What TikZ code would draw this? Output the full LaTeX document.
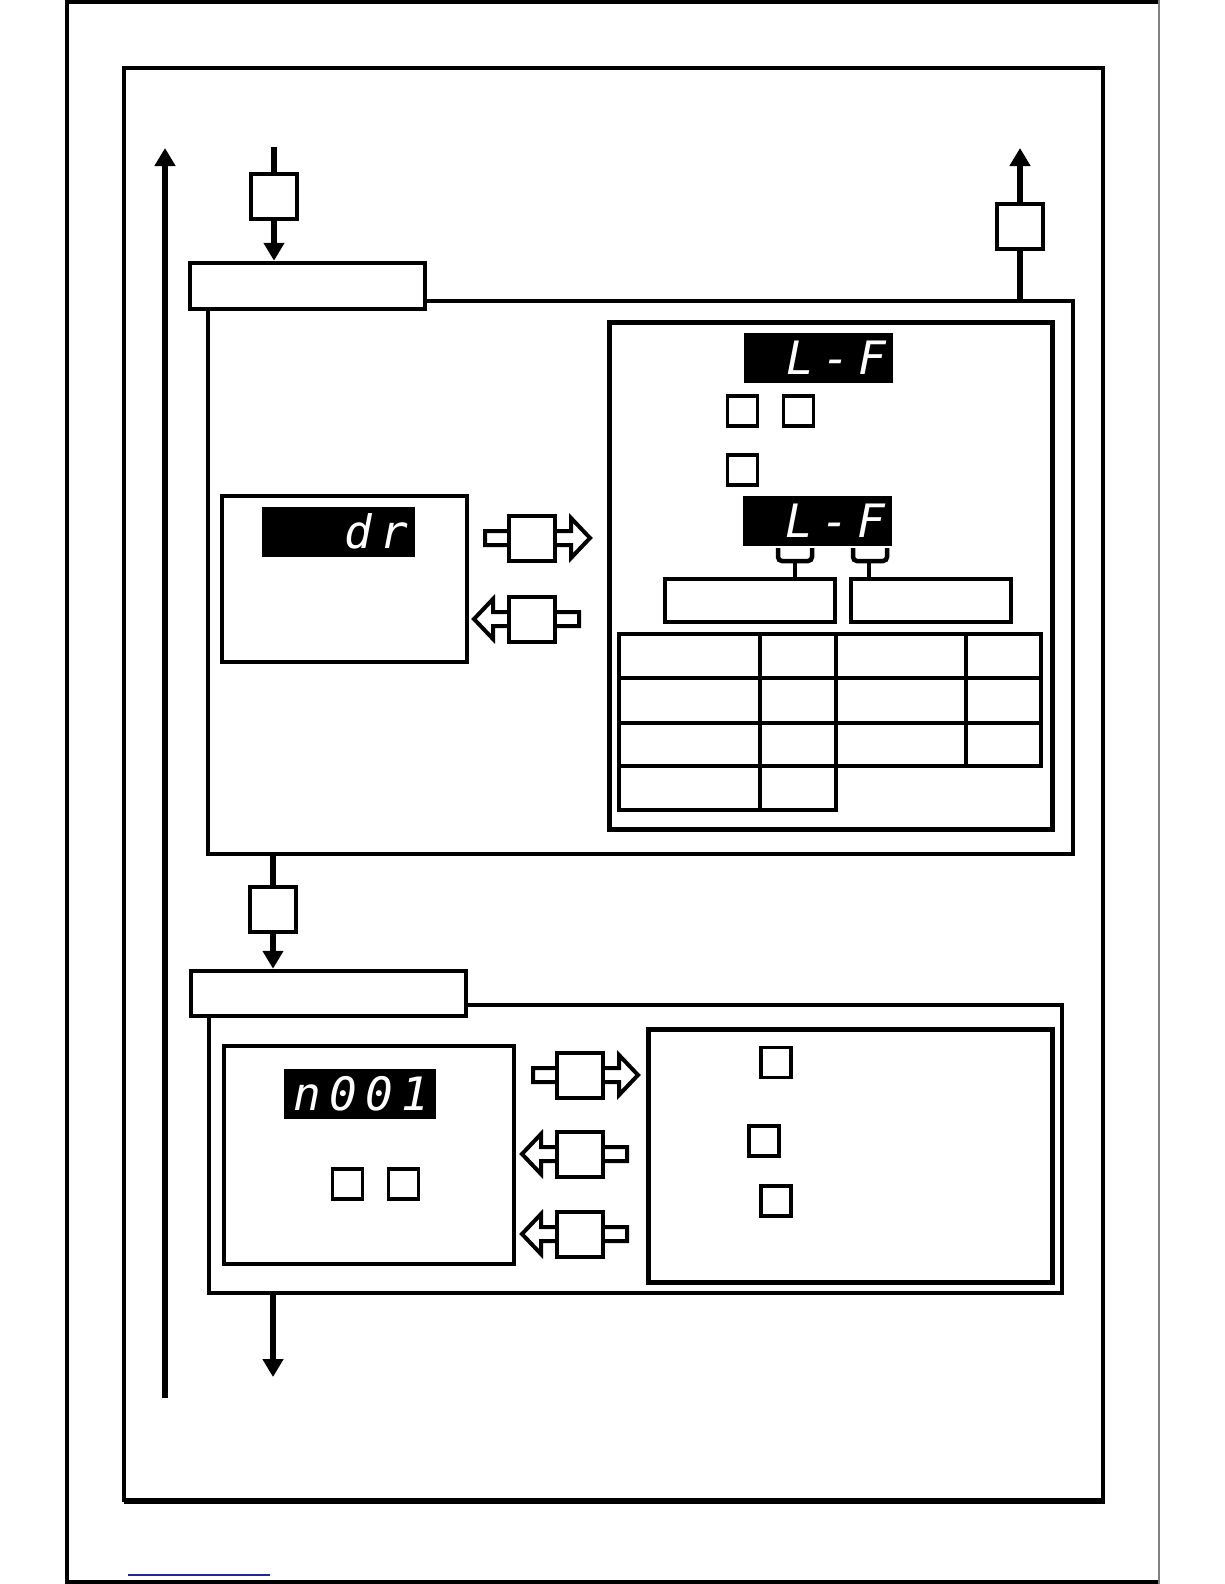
\documentclass[tikz,border=0pt]{standalone}
\usepackage{fontspec}
\newfontfamily\segfont[LetterSpace=18]{DejaVu Sans Mono}
\definecolor{linkblue}{RGB}{30,40,150}
\usetikzlibrary{arrows.meta}

\tikzset{
  blkarrow/.pic={
    \draw[line width=4pt, fill=white] (-47,-7) -- (39,-7) -- (39,-20) -- (58,0)
      -- (39,20) -- (39,7) -- (-47,7) -- cycle;
  }
}

\begin{document}
\begin{tikzpicture}[
  x=1pt, y=-1pt,
  panel/.style={draw, line width=4.5pt, inner sep=0pt},
  sq/.style={draw, line width=4pt, fill=white, minimum width=46pt, minimum height=45pt, inner sep=0pt},
  key/.style={draw, line width=3.5pt, minimum size=30pt, inner sep=0pt},
  lcd/.style={fill=black, text=white, inner xsep=7pt, inner ysep=0pt, minimum height=50pt, align=right,
    font=\segfont\itshape\fontsize{46}{46}\selectfont},
  flow/.style={line width=6pt, -{Triangle[length=18pt, width=20pt]}},
  wire/.style={line width=6pt},
  grid/.style={line width=3.5pt, line cap=rect},
]
\useasboundingbox (0,0) rectangle (1224,1584);

% page frames
\draw[line width=3.5pt] (67,0) -- (67,1584);
\draw[line width=3.5pt] (67,2) -- (1159,2);
\draw[line width=3.5pt] (67,1582) -- (1159,1582);
\draw[gray, line width=1.2pt] (1159,0) -- (1159,1584);
\draw[line width=3.5pt] (124,68) rectangle (1103,1500);
\draw[line width=5.5pt] (124,1501) -- (1105,1501);
\draw[linkblue, line width=1.5pt] (128,1575) -- (270,1575);

% first block
\node[panel, minimum width=865pt, minimum height=553pt] (m1) at (640.5,577.5) {};
\node[panel, fill=white, minimum width=235pt, minimum height=46pt] (h1) at (307.5,286) {};
\node[panel, minimum width=245pt, minimum height=166pt] (b1) at (344.5,579) {};
\node[lcd, text width=139pt] (d1) at (338.5,531.5) {dr};
\node[panel, line width=5pt, minimum width=443pt, minimum height=507pt] (p1) at (830.5,575.5) {};
\node[lcd, text width=135pt] (d2) at (818.5,358) {L-F};
\node[key] (k1) at (742.5,411) {};
\node[key] (k2) at (798.5,411) {};
\node[key] (k3) at (742.5,470) {};
\node[lcd, text width=135pt] (d3) at (817.5,520.5) {L-F};
\node[panel, minimum width=170pt, minimum height=43pt] (lb1) at (750,600.5) {};
\node[panel, minimum width=160pt, minimum height=43pt] (lb2) at (931,600.5) {};

% brackets under the display
\draw[line width=4.5pt, rounded corners=4pt] (778,548) -- (778,561) -- (812,561) -- (812,548);
\draw[line width=4.5pt, rounded corners=4pt] (853,548) -- (853,561) -- (887,561) -- (887,548);
\coordinate (br1) at (795,561);
\coordinate (br2) at (869,561);
\draw[line width=4.5pt] (br1) -- (br1 |- lb1.north);
\draw[line width=4.5pt] (br2) -- (br2 |- lb2.north);

% table
\foreach \y in {634,678,723,766}
  \draw[grid] (619,\y) -- (1041,\y);
\draw[grid] (619,810) -- (836,810);
\foreach \x in {619,760,836}
  \draw[grid] (\x,634) -- (\x,810);
\foreach \x in {966,1041}
  \draw[grid] (\x,634) -- (\x,766);

\pic at (532,538) {blkarrow};
\node[sq] (a1) at (532,538) {};
\pic[rotate=180] at (532,619) {blkarrow};
\node[sq] (a2) at (532,619) {};

% second block
\node[panel, minimum width=853pt, minimum height=288pt] (m2) at (635.5,1149) {};
\node[panel, fill=white, minimum width=275pt, minimum height=45pt] (h2) at (328.5,993.5) {};
\node[panel, minimum width=290pt, minimum height=218pt] (b2) at (369,1155) {};
\node[lcd, text width=138pt] (d4) at (360,1093.5) {n001};
\node[key] (k4) at (347.5,1184) {};
\node[key] (k5) at (403.5,1184) {};
\node[panel, line width=5pt, minimum width=404pt, minimum height=253pt] (p2) at (850,1155.5) {};
\node[key] (k6) at (776,1062.5) {};
\node[key] (k7) at (764,1141) {};
\node[key] (k8) at (776,1201) {};

\pic at (580,1075) {blkarrow};
\node[sq] (a3) at (580,1075) {};
\pic[rotate=180] at (580,1154) {blkarrow};
\node[sq] (a4) at (580,1154) {};
\pic[rotate=180] at (580,1234) {blkarrow};
\node[sq] (a5) at (580,1234) {};

% flow
\coordinate (in1) at (274,147);
\node[sq] (q1) at (274,196) {};
\draw[wire] (in1) -- (q1);
\draw[flow] (q1) -- (q1 |- h1.north);

\coordinate (out1) at (1020,148);
\node[sq] (q2) at (1020,226) {};
\draw[wire] (q2 |- m1.north) -- (q2);
\draw[flow] (q2) -- (out1);

\node[sq] (q3) at (273,909) {};
\draw[wire] (q3 |- m1.south) -- (q3);
\draw[flow] (q3) -- (q3 |- h2.north);

\coordinate (out2) at (273,1377);
\draw[flow] (out2 |- m2.south) -- (out2);

\coordinate (ret0) at (165,1398);
\coordinate (ret1) at (165,148);
\draw[flow] (ret0) -- (ret1);
\end{tikzpicture}
\end{document}
